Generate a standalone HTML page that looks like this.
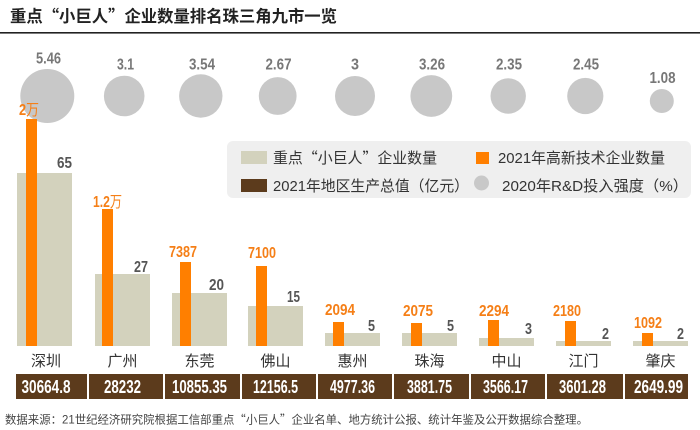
<!DOCTYPE html>
<html><head><meta charset="utf-8"><style>
html,body{margin:0;padding:0;background:#fff;}
svg{display:block;}
text{font-family:"Liberation Sans","Noto Sans CJK SC",sans-serif;}
.q{font-family:"Noto Sans CJK SC",sans-serif;}
</style></head><body>
<svg width="700" height="430" viewBox="0 0 700 430" xmlns="http://www.w3.org/2000/svg">
<rect x="0" y="0" width="700" height="430" fill="#fff"/>
<!-- title -->
<text x="10" y="22" font-size="16.5" font-weight="bold" fill="#222" textLength="327" lengthAdjust="spacingAndGlyphs">重点<tspan class="q">“</tspan>小巨人<tspan class="q">”</tspan>企业数量排名珠三角九市一览</text>
<rect x="0" y="32" width="700" height="1.6" fill="#222"/>

<!-- circles -->
<g fill="#c8c8c8">
<circle cx="47.3" cy="96" r="27"/>
<circle cx="124.2" cy="96" r="20.3"/>
<circle cx="200.8" cy="96" r="21.7"/>
<circle cx="277.7" cy="96" r="18.9"/>
<circle cx="355" cy="96" r="20"/>
<circle cx="431.3" cy="96" r="20.9"/>
<circle cx="508.2" cy="96" r="17.7"/>
<circle cx="585.3" cy="96" r="18.1"/>
<circle cx="661.8" cy="101" r="12"/>
</g>
<g font-size="15.5" font-weight="bold" fill="#777" text-anchor="middle">
<text x="48.5" y="63.5" textLength="25" lengthAdjust="spacingAndGlyphs">5.46</text>
<text x="125.5" y="69.5" textLength="17" lengthAdjust="spacingAndGlyphs">3.1</text>
<text x="202" y="69.5" textLength="26" lengthAdjust="spacingAndGlyphs">3.54</text>
<text x="278.5" y="69.5" textLength="26" lengthAdjust="spacingAndGlyphs">2.67</text>
<text x="355" y="69.5" textLength="8" lengthAdjust="spacingAndGlyphs">3</text>
<text x="432" y="69.5" textLength="26" lengthAdjust="spacingAndGlyphs">3.26</text>
<text x="509" y="69.5" textLength="26" lengthAdjust="spacingAndGlyphs">2.35</text>
<text x="586" y="69.5" textLength="26" lengthAdjust="spacingAndGlyphs">2.45</text>
<text x="662.5" y="83" textLength="26" lengthAdjust="spacingAndGlyphs">1.08</text>
</g>

<!-- legend -->
<rect x="227" y="141" width="464" height="57" rx="6" fill="#efefef"/>
<rect x="241" y="151" width="26" height="13" fill="#d3d2bd"/>
<rect x="241" y="179" width="26" height="13" fill="#5c3b1c"/>
<rect x="476" y="152" width="13" height="12" fill="#ff7f00"/>
<circle cx="481.5" cy="183" r="7.5" fill="#c8c8c8"/>
<g font-size="15" fill="#333">
<text x="273" y="163" textLength="164" lengthAdjust="spacingAndGlyphs">重点<tspan class="q">“</tspan>小巨人<tspan class="q">”</tspan>企业数量</text>
<text x="498" y="163" textLength="167" lengthAdjust="spacingAndGlyphs">2021年高新技术企业数量</text>
<text x="273" y="191" textLength="196" lengthAdjust="spacingAndGlyphs">2021年地区生产总值<tspan class="q">（</tspan>亿元<tspan class="q">）</tspan></text>
<text x="502" y="191" textLength="186" lengthAdjust="spacingAndGlyphs">2020年R&amp;D投入强度<tspan class="q">（</tspan>%<tspan class="q">）</tspan></text>
</g>

<!-- beige bars -->
<g fill="#d3d2bd">
<rect x="17" y="173" width="55" height="173"/>
<rect x="95" y="274" width="55" height="72"/>
<rect x="172" y="293" width="55" height="53"/>
<rect x="248" y="306" width="55" height="40"/>
<rect x="325" y="333" width="55" height="13"/>
<rect x="402" y="333" width="55" height="13"/>
<rect x="479" y="338" width="55" height="8"/>
<rect x="556" y="341" width="55" height="5"/>
<rect x="633" y="341" width="55" height="5"/>
</g>
<!-- orange bars -->
<g fill="#ff7f00">
<rect x="26" y="119" width="11" height="227"/>
<rect x="102" y="209" width="11" height="137"/>
<rect x="180" y="262" width="11" height="84"/>
<rect x="256" y="266" width="11" height="80"/>
<rect x="333" y="322" width="11" height="24"/>
<rect x="411" y="323" width="11" height="23"/>
<rect x="488" y="320" width="11" height="26"/>
<rect x="565" y="321" width="11" height="25"/>
<rect x="642" y="333" width="11" height="13"/>
</g>

<!-- orange labels -->
<g font-size="15.5" font-weight="bold" fill="#f57f17" text-anchor="middle">
<text x="29" y="115" textLength="20" lengthAdjust="spacingAndGlyphs">2<tspan font-weight="normal">万</tspan></text>
<text x="107.5" y="207" textLength="29" lengthAdjust="spacingAndGlyphs">1.2<tspan font-weight="normal">万</tspan></text>
<text x="183" y="257" textLength="28" lengthAdjust="spacingAndGlyphs">7387</text>
<text x="262" y="258" textLength="28" lengthAdjust="spacingAndGlyphs">7100</text>
<text x="340" y="315" textLength="30" lengthAdjust="spacingAndGlyphs">2094</text>
<text x="418" y="316" textLength="30" lengthAdjust="spacingAndGlyphs">2075</text>
<text x="494" y="316" textLength="30" lengthAdjust="spacingAndGlyphs">2294</text>
<text x="567" y="316" textLength="28" lengthAdjust="spacingAndGlyphs">2180</text>
<text x="648" y="328" textLength="28" lengthAdjust="spacingAndGlyphs">1092</text>
</g>
<!-- beige labels -->
<g font-size="15.5" font-weight="bold" fill="#555" text-anchor="end">
<text x="72" y="168" textLength="15" lengthAdjust="spacingAndGlyphs">65</text>
<text x="148" y="272" textLength="14" lengthAdjust="spacingAndGlyphs">27</text>
<text x="224" y="290" textLength="15" lengthAdjust="spacingAndGlyphs">20</text>
<text x="300" y="302" textLength="13" lengthAdjust="spacingAndGlyphs">15</text>
<text x="375" y="331" textLength="7" lengthAdjust="spacingAndGlyphs">5</text>
<text x="454" y="331" textLength="7" lengthAdjust="spacingAndGlyphs">5</text>
<text x="532" y="334" textLength="7" lengthAdjust="spacingAndGlyphs">3</text>
<text x="609" y="339" textLength="7" lengthAdjust="spacingAndGlyphs">2</text>
<text x="684" y="339" textLength="7" lengthAdjust="spacingAndGlyphs">2</text>
</g>

<!-- city names -->
<g font-size="15" fill="#333" text-anchor="middle">
<text x="46" y="366">深圳</text>
<text x="122.5" y="366">广州</text>
<text x="199.5" y="366">东莞</text>
<text x="275.5" y="366">佛山</text>
<text x="352.5" y="366">惠州</text>
<text x="429.5" y="366">珠海</text>
<text x="506.5" y="366">中山</text>
<text x="583.5" y="366">江门</text>
<text x="660.5" y="366">肇庆</text>
</g>

<!-- GDP boxes -->
<g fill="#5c3b1c">
<rect x="16" y="374" width="71" height="25"/>
<rect x="89" y="374" width="74" height="25"/>
<rect x="165" y="374" width="75" height="25"/>
<rect x="242" y="374" width="74" height="25"/>
<rect x="318" y="374" width="74" height="25"/>
<rect x="394" y="374" width="75" height="25"/>
<rect x="471" y="374" width="74" height="25"/>
<rect x="547" y="374" width="76" height="25"/>
<rect x="625" y="374" width="63" height="25"/>
</g>
<g font-size="18" font-weight="bold" fill="#fff" text-anchor="middle">
<text x="46" y="393" textLength="49" lengthAdjust="spacingAndGlyphs">30664.8</text>
<text x="122.5" y="393" textLength="37" lengthAdjust="spacingAndGlyphs">28232</text>
<text x="199.5" y="393" textLength="55" lengthAdjust="spacingAndGlyphs">10855.35</text>
<text x="275.5" y="393" textLength="45" lengthAdjust="spacingAndGlyphs">12156.5</text>
<text x="352.5" y="393" textLength="45" lengthAdjust="spacingAndGlyphs">4977.36</text>
<text x="429.5" y="393" textLength="45" lengthAdjust="spacingAndGlyphs">3881.75</text>
<text x="505.5" y="393" textLength="45" lengthAdjust="spacingAndGlyphs">3566.17</text>
<text x="582.5" y="393" textLength="47" lengthAdjust="spacingAndGlyphs">3601.28</text>
<text x="658.5" y="393" textLength="49" lengthAdjust="spacingAndGlyphs">2649.99</text>
</g>

<!-- footer -->
<text x="5" y="423.5" font-size="11.5" fill="#444" textLength="583" lengthAdjust="spacingAndGlyphs">数据来源：21世纪经济研究院根据工信部重点<tspan class="q">“</tspan>小巨人<tspan class="q">”</tspan>企业名单、地方统计公报、统计年鉴及公开数据综合整理。</text>
</svg>
</body></html>
